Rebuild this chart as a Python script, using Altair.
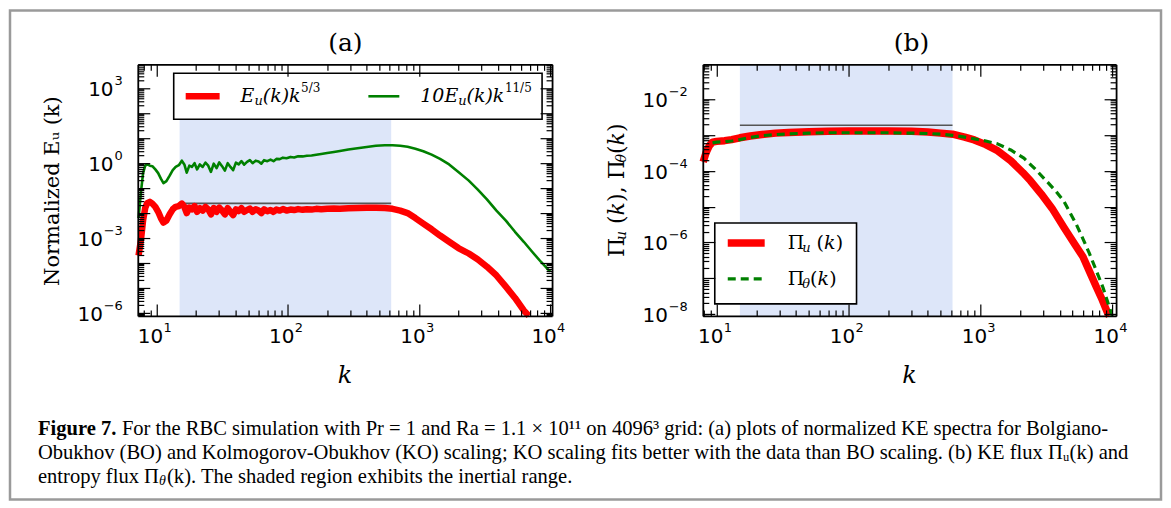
import math
import altair as alt
import pandas as pd

# ------------------------------------------------------------------
# Data (values are log10 of the plotted quantity)
# ------------------------------------------------------------------
# (a) E_u(k) k^{5/3}
a_red_k = [7.3, 7.6, 7.9, 8.2, 8.5, 8.9, 9.3, 9.8, 10.3, 10.8,
           11.3, 11.9, 12.6, 13.3, 14.0, 14.8, 15.6, 16.3, 17.0, 17.8,
           18.6, 19.5, 20.4, 21.4, 22.5, 23.6, 24.8, 26.0, 27.3, 28.7,
           30.1, 31.6, 33.2, 34.9, 36.6, 38.4, 40.3, 42.3, 44.4, 46.6,
           49, 51.5, 54, 57, 60, 63, 66, 70, 74, 78,
           82, 87, 92, 98, 105, 112, 120, 130, 140, 152,
           165, 180, 200, 225, 250, 290, 340, 400, 470, 550,
           630, 720, 820, 940, 1080, 1250, 1450, 1700, 2000, 2400,
           2800, 3300, 3900, 4600, 5400, 6300, 6900]
a_red_log = [-3.7, -3.1, -2.3, -1.8, -1.6, -1.55, -1.62, -1.75, -1.95, -2.2,
             -2.38, -2.3, -2.05, -1.85, -1.75, -1.72, -1.62, -1.75, -2.0, -1.78,
             -1.85, -1.72, -1.95, -1.8, -1.9, -1.75, -1.85, -2.05, -1.8, -1.95,
             -1.78, -1.9, -2.05, -1.8, -1.95, -2.08, -1.85, -1.92, -1.8, -1.95,
             -1.88, -1.82, -1.95, -1.85, -1.9, -2.0, -1.85, -1.93, -1.88, -1.95,
             -1.86, -1.9, -1.84, -1.9, -1.86, -1.88, -1.84, -1.87, -1.85, -1.86,
             -1.83, -1.85, -1.83, -1.82, -1.83, -1.81, -1.8, -1.79, -1.79, -1.8,
             -1.83, -1.9, -2.0, -2.2, -2.42, -2.65, -2.9, -3.15, -3.4, -3.62,
             -3.85, -4.15, -4.5, -4.95, -5.4, -5.9, -6.12]
# (a) 10 E_u(k) k^{11/5}
a_green_k = [7.3, 7.6, 7.9, 8.2, 8.5, 8.9, 9.3, 9.8, 10.3, 10.8,
             11.3, 11.9, 12.6, 13.3, 14.0, 14.8, 15.6, 16.3, 17.0, 17.8,
             18.6, 19.5, 20.4, 21.4, 22.5, 23.6, 24.8, 26.0, 27.3, 28.7,
             30.1, 31.6, 33.2, 34.9, 36.6, 38.4, 40.3, 42.3, 44.4, 46.6,
             49, 51.5, 54, 57, 60, 63, 66, 70, 74, 78,
             82, 87, 92, 98, 105, 112, 120, 130, 140, 152,
             165, 180, 200, 225, 250, 290, 340, 400, 470, 550,
             630, 720, 820, 940, 1080, 1250, 1450, 1700, 2000, 2400,
             2800, 3300, 3900, 4600, 5400, 6300, 7300, 8500, 10000]
a_green_log = [-2.2, -1.2, -0.4, -0.1, -0.05, -0.1, -0.12, -0.25, -0.4, -0.62,
               -0.8, -0.72, -0.5, -0.28, -0.15, -0.08, 0.1, -0.05, -0.38, -0.1,
               -0.15, 0.0, -0.25, -0.05, -0.15, 0.02, -0.1, -0.35, -0.02, -0.2,
               0.03, -0.12, -0.3, 0.0, -0.15, -0.28, 0.02, -0.05, 0.08, -0.06,
               0.05, 0.12, 0.0, 0.1, 0.07, -0.02, 0.12, 0.08, 0.14, 0.08,
               0.17, 0.16, 0.22, 0.2, 0.25, 0.23, 0.28, 0.27, 0.3, 0.31,
               0.34, 0.37, 0.41, 0.45, 0.49, 0.55, 0.6, 0.65, 0.7, 0.72,
               0.72, 0.7, 0.66, 0.58, 0.48, 0.34, 0.17, -0.05, -0.35, -0.7,
               -1.05, -1.45, -1.9, -2.3, -2.75, -3.15, -3.55, -3.95, -4.35]
# (b) Pi_u(k)
b_red_k = [7.9, 8.3, 8.8, 9.3, 10, 11.5, 13, 15, 18, 22,
           28, 35, 50, 70, 100, 150, 200, 300, 400, 500,
           615, 760, 900, 1100, 1350, 1700, 2100, 2400, 2900, 3500,
           4300, 5200, 6000, 6800, 7600, 8400, 9300, 9500]
b_red_log = [-3.75, -3.5, -3.3, -3.2, -3.18, -3.16, -3.13, -3.08, -3.03, -2.99,
             -2.95, -2.93, -2.91, -2.9, -2.89, -2.89, -2.89, -2.9, -2.92, -2.95,
             -2.98, -3.06, -3.14, -3.27, -3.44, -3.72, -4.05, -4.28, -4.65, -5.05,
             -5.58, -6.05, -6.4, -6.85, -7.25, -7.6, -8.0, -8.05]
# (b) Pi_theta(k)
b_green_k = [9.3, 10, 11.5, 13, 15, 18, 22, 28, 35, 50,
             70, 100, 150, 200, 300, 400, 500, 615, 760, 900,
             1100, 1350, 1700, 2140, 2600, 3200, 3700, 4300, 5350, 6000,
             6700, 7600, 8500, 9600, 10000]
b_green_log = [-3.22, -3.2, -3.19, -3.17, -3.13, -3.07, -3.02, -2.99, -2.97, -2.95,
               -2.94, -2.94, -2.94, -2.94, -2.95, -2.96, -2.98, -3.01, -3.06, -3.11,
               -3.17, -3.25, -3.42, -3.65, -3.95, -4.3, -4.55, -4.85, -5.5, -5.9,
               -6.3, -6.8, -7.25, -7.85, -8.05]

inertial_range = [15, 615]          # shaded region (k)
ref_level_a = 0.0245                # horizontal reference line, panel (a)
ref_level_b = 1.86e-3               # horizontal reference line, panel (b)

xlabel_vals = [10, 100, 1000, 10000]
ylabel_vals_a = [1e-6, 1e-3, 1, 1e3]
ylabel_vals_b = [1e-8, 1e-6, 1e-4, 1e-2]

caption_1a = "Figure 7."
caption_1b = "For the RBC simulation with Pr = 1 and Ra = 1.1 × 10¹¹ on 4096³ grid: (a) plots of normalized KE spectra for Bolgiano-"
caption_2 = "Obukhov (BO) and Kolmogorov-Obukhov (KO) scaling; KO scaling fits better with the data than BO scaling. (b) KE flux Πᵤ(k) and"
caption_3a = "entropy flux Π"
caption_3b = "(k). The shaded region exhibits the inertial range."

# ------------------------------------------------------------------
# Layout (pixels inside the single 1155 x 492 view)
# ------------------------------------------------------------------
W, H = 1155, 492
PA = dict(x0=129, x1=544, y0=55, y1=307, xdom=[7.2, 10350], ydom=[10 ** -6.12, 10 ** 3.96])
PB = dict(x0=695, x1=1109, y0=55, y1=307, xdom=[7.85, 10700], ydom=[10 ** -8.05, 10 ** -1.03])

RED = "#ff0000"
GREEN = "#008000"
SHADE = "#dde6f9"
SERIF = "DejaVu Serif"
SANS = "DejaVu Sans"


def sx(P):
    return alt.Scale(type="log", domain=P["xdom"], range=[P["x0"], P["x1"]], nice=False)


def sy(P):
    return alt.Scale(type="log", domain=P["ydom"], range=[P["y1"], P["y0"]], nice=False)


def all_ticks(lo, hi):
    out = []
    for e in range(math.floor(math.log10(lo)) - 1, math.ceil(math.log10(hi)) + 1):
        for m in range(1, 10):
            v = m * 10.0 ** e
            if lo <= v <= hi:
                out.append(v)
    return out


def exp_str(v):
    n = round(math.log10(v))
    return str(n).replace("-", "−")


MAJOR = "abs(log(datum.value)/LN10 - round(log(datum.value)/LN10)) < 0.01"
TICK_SIZE = {"condition": {"test": MAJOR, "value": 12}, "value": 6}


def tick_axis(orient, offset, values, domain=False):
    return alt.Axis(orient=orient, offset=offset, values=values, labels=False,
                    domain=domain, domainColor="black", domainWidth=1.8,
                    ticks=True, tickSize=TICK_SIZE, tickColor="black", tickWidth=1.2,
                    grid=False, title=None, zindex=1)


def frame_layers(P):
    mid_v = math.sqrt(P["ydom"][0] * P["ydom"][1])
    pt = pd.DataFrame({"k": [100.0], "v": [mid_v]})
    base = alt.Chart(pt).mark_point(opacity=0)
    xt = all_ticks(*P["xdom"])
    yt = all_ticks(*P["ydom"])
    L1 = base.encode(
        x=alt.X("k:Q", scale=sx(P), axis=alt.Axis(
            orient="bottom", offset=P["y1"] - H, values=xlabel_vals, labels=False,
            ticks=False, domain=True, domainColor="black", domainWidth=1.8,
            grid=False, title=None, zindex=1)),
        y=alt.Y("v:Q", scale=sy(P), axis=alt.Axis(
            orient="left", offset=-P["x0"], values=[mid_v], labels=False,
            ticks=False, domain=True, domainColor="black", domainWidth=1.8,
            grid=False, title=None, zindex=1)),
    )
    L2 = base.encode(
        x=alt.X("k:Q", scale=sx(P), axis=tick_axis("top", -P["y1"], xt)),
        y=alt.Y("v:Q", scale=sy(P), axis=tick_axis("right", P["x0"] - W, yt)),
    )
    L3 = base.encode(
        x=alt.X("k:Q", scale=sx(P), axis=tick_axis("bottom", P["y0"] - H, xt, domain=True)),
        y=alt.Y("v:Q", scale=sy(P), axis=tick_axis("left", -P["x1"], yt, domain=True)),
    )
    return [L1, L2, L3]


def x_tick_labels(P):
    df = pd.DataFrame({"k": xlabel_vals, "e": [exp_str(v) for v in xlabel_vals]})
    base = alt.Chart(df).encode(x=alt.X("k:Q", scale=sx(P), axis=None))
    t10 = base.mark_text(text="10", font=SANS, fontSize=20, align="center",
                         baseline="middle", dx=-6, color="black").encode(y=alt.value(P["y1"] + 21))
    tex = base.mark_text(font=SANS, fontSize=13, align="left", baseline="middle",
                         dx=7, color="black").encode(y=alt.value(P["y1"] + 12), text="e:N")
    return [t10, tex]


def y_tick_labels(P, vals):
    out = []
    exps = [exp_str(v) for v in vals]
    df = pd.DataFrame({"v": vals, "e": exps})
    out.append(alt.Chart(df).mark_text(font=SANS, fontSize=13, align="right", baseline="middle",
                                       dy=-7, color="black").encode(
        y=alt.Y("v:Q", scale=sy(P), axis=None), x=alt.value(P["x0"] - 15), text="e:N"))
    for ln in sorted(set(len(e) for e in exps)):
        sub = [v for v, e in zip(vals, exps) if len(e) == ln]
        w = 8.3 if ln == 1 else 19.0
        d = pd.DataFrame({"v": sub})
        out.append(alt.Chart(d).mark_text(text="10", font=SANS, fontSize=20, align="right",
                                          baseline="middle", dy=2, color="black").encode(
            y=alt.Y("v:Q", scale=sy(P), axis=None), x=alt.value(P["x0"] - 16 - w)))
    return out


def line_layer(P, ks, logs, color, width, dash=None):
    df = pd.DataFrame({"k": ks, "v": [10 ** x for x in logs]})
    props = dict(color=color, strokeWidth=width, strokeJoin="round")
    if dash:
        props["strokeDash"] = dash
    return alt.Chart(df).mark_line(**props).encode(
        x=alt.X("k:Q", scale=sx(P), axis=None),
        y=alt.Y("v:Q", scale=sy(P), axis=None),
        order="k:Q",
    )


def shade_layer(P, top):
    df = pd.DataFrame({"k0": [inertial_range[0]], "k1": [inertial_range[1]]})
    return alt.Chart(df).mark_rect(color=SHADE).encode(
        x=alt.X("k0:Q", scale=sx(P), axis=None), x2="k1:Q",
        y=alt.value(P["y1"]), y2=alt.value(top))


def ref_layer(P, level):
    df = pd.DataFrame({"k0": [inertial_range[0]], "k1": [inertial_range[1]], "v": [level]})
    return alt.Chart(df).mark_rule(color="#555555", strokeWidth=1.6).encode(
        x=alt.X("k0:Q", scale=sx(P), axis=None), x2="k1:Q",
        y=alt.Y("v:Q", scale=sy(P), axis=None))


ONE = alt.Data(values=[{"a": 0}])


def text(t, x, y, size, font=SERIF, style="normal", weight="normal", angle=0,
         align="left", dx=0, dy=0):
    return alt.Chart(ONE).mark_text(
        text=t, font=font, fontSize=size, fontStyle=style, fontWeight=weight,
        angle=angle, align=align, baseline="middle", dx=dx, dy=dy, color="black",
    ).encode(x=alt.value(x), y=alt.value(y))


DVS = {" ": 0.318, "(": 0.39, ")": 0.39, ",": 0.318, "Π": 0.77, "k": 0.62,
       "u": 0.64, "θ": 0.6, "E": 0.73, "/": 0.34, ".": 0.318}


def tw(s, size):
    return sum(DVS.get(c, 0.636 if c.isdigit() else 0.6) for c in s) * size


def rich(x, y, parts, angle=0, center=False):
    widths = [tw(t, s) for t, s, it, sh in parts]
    off = -sum(widths) / 2 if center else 0
    out = []
    for (t, s, it, sh), w in zip(parts, widths):
        lead = len(t) - len(t.lstrip(" "))
        out.append(text(t.lstrip(" "), x, y, s, style="italic" if it else "normal",
                        angle=angle, dx=off + lead * 0.318 * s, dy=sh))
        off += w
    return out


def box(x0, x1, y0, y1):
    return alt.Chart(ONE).mark_rect(fill="white", stroke="black", strokeWidth=1.6).encode(
        x=alt.value(x0), x2=alt.value(x1), y=alt.value(y0), y2=alt.value(y1))


def swatch(x0, x1, y, color, width, dash=None):
    props = dict(color=color, strokeWidth=width)
    if dash:
        props["strokeDash"] = dash
    return alt.Chart(ONE).mark_rule(**props).encode(
        x=alt.value(x0), x2=alt.value(x1), y=alt.value(y))


layers = []
# figure frame
layers.append(alt.Chart(ONE).mark_rect(fill="white", stroke="#9a9a9a", strokeWidth=2.5).encode(
    x=alt.value(1), x2=alt.value(W - 1), y=alt.value(1), y2=alt.value(H - 1)))

# panel (a)
layers.append(shade_layer(PA, 110))
layers.append(ref_layer(PA, ref_level_a))
layers.append(line_layer(PA, a_green_k, a_green_log, GREEN, 2.6))
layers.append(line_layer(PA, a_red_k, a_red_log, RED, 6.5))
# panel (b)
layers.append(shade_layer(PB, PB["y0"]))
layers.append(ref_layer(PB, ref_level_b))
layers.append(line_layer(PB, b_red_k, b_red_log, RED, 7.5))
layers.append(line_layer(PB, b_green_k, b_green_log, GREEN, 3.2, dash=[8, 5]))

# legends
layers.append(box(165, 534, 64, 110))
layers.append(swatch(177, 211, 87, RED, 6.5))
layers.append(swatch(360, 391, 87, GREEN, 2.6))
layers += rich(232, 87, [("E", 19, True, 0), ("u", 13, True, 5), ("(k)k", 19, True, 0), ("5/3", 12, False, -8)])
layers += rich(412, 87, [("10E", 19, True, 0), ("u", 13, True, 5), ("(k)k", 19, True, 0), ("11/5", 12, False, -8)])

layers.append(box(707, 849, 214, 295))
layers.append(swatch(720, 757, 234, RED, 7.5))
layers.append(swatch(720, 757, 270, GREEN, 3.2, dash=[8, 5]))
layers += rich(780, 234, [("Π", 19, False, 0), ("u", 13, True, 5), (" (", 19, False, 0), ("k", 19, True, 0), (")", 19, False, 0)])
layers += rich(780, 270, [("Π", 19, False, 0), ("θ", 13, True, 5), ("(", 19, False, 0), ("k", 19, True, 0), (")", 19, False, 0)])

# axes (frames, ticks) and tick labels
layers += frame_layers(PA)
layers += frame_layers(PB)
layers += x_tick_labels(PA) + x_tick_labels(PB)
layers += y_tick_labels(PA, ylabel_vals_a) + y_tick_labels(PB, ylabel_vals_b)

# titles
layers.append(text("(a)", 337, 34, 25, align="center"))
layers.append(text("(b)", 904, 34, 25, align="center"))
layers.append(text("k", (PA["x0"] + PA["x1"]) / 2, 367, 24, style="italic", align="center"))
layers.append(text("k", (PB["x0"] + PB["x1"]) / 2, 367, 24, style="italic", align="center"))
layers.append(text("Normalized Eᵤ (k)", 44, 182, 21, angle=270, align="center"))
layers += rich(609, 181, [("Π", 22, False, 0), ("u", 14, True, 5), (" (", 22, False, 0), ("k", 22, True, 0),
                          ("), Π", 22, False, 0), ("θ", 14, True, 5), ("(", 22, False, 0), ("k", 22, True, 0),
                          (")", 22, False, 0)], angle=270, center=True)

# caption
CAP = "Liberation Serif"
cs = 20.6
layers.append(text(caption_1a, 29, 420, cs, font=CAP, weight="bold"))
layers.append(text(caption_1b, 29 + 3.833 * cs + 0.25 * cs, 420, cs, font=CAP))
layers.append(text(caption_2, 29, 444, cs, font=CAP))
layers.append(text(caption_3a, 29, 468, cs, font=CAP))
layers.append(text("θ", 29 + 5.888 * cs, 468, 14, font=CAP, style="italic", dy=4))
layers.append(text(caption_3b, 29 + 5.888 * cs + 8, 468, cs, font=CAP))

chart = alt.layer(*layers).resolve_scale(x="independent", y="independent").properties(
    width=W, height=H, padding=0
).configure_view(stroke=None)

chart.save("out.html", embed_options={"renderer": "svg", "actions": False})
